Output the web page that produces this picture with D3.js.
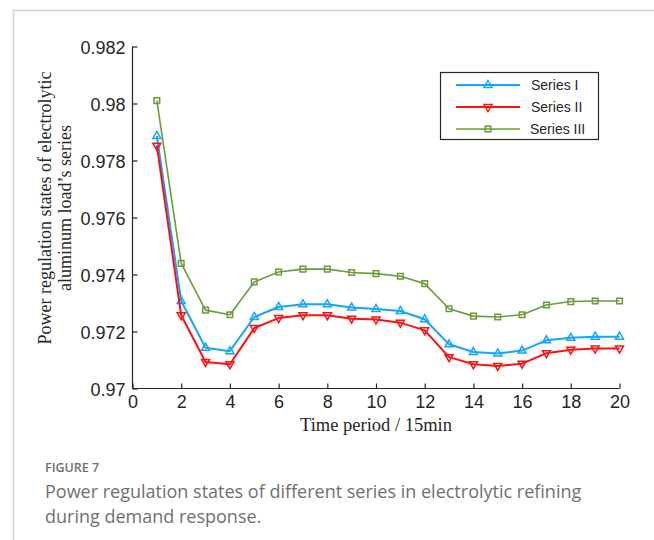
<!DOCTYPE html>
<html>
<head>
<meta charset="utf-8">
<script src="https://cdn.jsdelivr.net/npm/d3@7"></script>
<style>
  body { margin: 0; background: #fff; }
</style>
</head>
<body>
<div id="vis"></div>
<script>
const periods = [1, 2, 3, 4, 5, 6, 7, 8, 9, 10, 11, 12, 13, 14, 15, 16, 17, 18, 19, 20];
const seriesI = [0.97886, 0.97307, 0.97143, 0.97131, 0.97251, 0.97286, 0.97296, 0.97296, 0.97284, 0.97279,
  0.97272, 0.97243, 0.97155, 0.97128, 0.97123, 0.97133, 0.97169, 0.97178, 0.97182, 0.97182];
const seriesII = [0.97852, 0.97257, 0.97093, 0.97085, 0.97212, 0.97247, 0.97257, 0.97257, 0.97245, 0.97242,
  0.97231, 0.97204, 0.97110, 0.97085, 0.97079, 0.97087, 0.97124, 0.97136, 0.97140, 0.97140];
const seriesIII = [0.98010, 0.97439, 0.97275, 0.97259, 0.97374, 0.97409, 0.97419, 0.97419, 0.97407, 0.97403,
  0.97394, 0.97368, 0.97280, 0.97254, 0.97251, 0.97259, 0.97293, 0.97305, 0.97307, 0.97307];
const seriesNames = ["Series I", "Series II", "Series III"];
const xTicks = [0, 2, 4, 6, 8, 10, 12, 14, 16, 18, 20];
const yTicks = [0.97, 0.972, 0.974, 0.976, 0.978, 0.98, 0.982];

const W = 654, H = 540;
const svg = d3.select("#vis").append("svg")
  .attr("width", W)
  .attr("height", H);

// page frame (top and left rules)
svg.append("line")
  .attr("x1", 13).attr("x2", W).attr("y1", 10.5).attr("y2", 10.5)
  .attr("stroke", "#cfcfcf").attr("stroke-width", 1.5);
svg.append("line")
  .attr("x1", 13.5).attr("x2", 13.5).attr("y1", 10).attr("y2", H)
  .attr("stroke", "#cfcfcf").attr("stroke-width", 1.5);

const x = d3.scaleLinear().domain([0, 20]).range([132.5, 619.5]);
const y = d3.scaleLinear().domain([0.97, 0.982]).range([388.5, 46.5]);

const series = [
  { name: seriesNames[0], values: seriesI, color: "#14a5ff", width: 2, marker: "up" },
  { name: seriesNames[1], values: seriesII, color: "#ff1010", width: 2, marker: "down" },
  { name: seriesNames[2], values: seriesIII, color: "#6b9c38", width: 1.6, marker: "square" }
];

function markerPath(type) {
  if (type === "up") return "M0,-4.5L4,2.5L-4,2.5Z";
  if (type === "down") return "M0,4.5L4,-2.5L-4,-2.5Z";
  return "M-2.8,-2.8H2.8V2.8H-2.8Z";
}

// axes: left and bottom only, ticks pointing inward
const axisColor = "#262626";
const yAxis = svg.append("g")
  .attr("transform", `translate(${x(0)},0)`)
  .call(d3.axisLeft(y).tickValues(yTicks).tickSize(-5).tickPadding(7)
    .tickFormat(d => d3.format("")(+d.toFixed(3))));
const xAxis = svg.append("g")
  .attr("transform", `translate(0,${y(0.97)})`)
  .call(d3.axisBottom(x).tickValues(xTicks).tickSize(-5).tickPadding(7));

[yAxis, xAxis].forEach(g => {
  g.select(".domain").attr("stroke", axisColor).attr("stroke-width", 1.2);
  g.selectAll(".tick line").attr("stroke", axisColor).attr("stroke-width", 1.2);
  g.selectAll(".tick text")
    .attr("fill", "#262626")
    .attr("font-family", "'Liberation Sans', Arial, sans-serif")
    .attr("font-size", "18px");
});
yAxis.select(".domain").attr("d", `M0,${y(0.982)}V${y(0.97)}`);
xAxis.select(".domain").attr("d", `M${x(0)},0H${x(20)}`);
yAxis.selectAll(".tick text").attr("dy", "0.38em");

const line = d3.line()
  .x((d, i) => x(periods[i]))
  .y(d => y(d));

series.forEach(s => {
  svg.append("path")
    .datum(s.values)
    .attr("fill", "none")
    .attr("stroke", s.color)
    .attr("stroke-width", s.width)
    .attr("stroke-linejoin", "round")
    .attr("d", line);
  svg.append("g").selectAll("path")
    .data(s.values)
    .join("path")
    .attr("transform", (d, i) => `translate(${x(periods[i])},${y(d)})`)
    .attr("d", markerPath(s.marker))
    .attr("fill", "none")
    .attr("stroke", s.color)
    .attr("stroke-width", 1.5);
});

// axis labels
svg.append("text")
  .attr("x", x(10))
  .attr("y", 431)
  .attr("text-anchor", "middle")
  .attr("font-family", "'Liberation Serif', 'Times New Roman', serif")
  .attr("font-size", "18.5px")
  .attr("fill", "#262626")
  .text("Time period / 15min");

const yLabel = svg.append("text")
  .attr("transform", `translate(51,208) rotate(-90)`)
  .attr("text-anchor", "middle")
  .attr("font-family", "'Liberation Serif', 'Times New Roman', serif")
  .attr("font-size", "18px")
  .attr("fill", "#262626");
yLabel.append("tspan").attr("x", 0).attr("dy", 0).text("Power regulation states of electrolytic");
yLabel.append("tspan").attr("x", 0).attr("dy", 20).text("aluminum load\u2019s series");

// legend
const legend = svg.append("g");
legend.append("rect")
  .attr("x", 440.5).attr("y", 72.5)
  .attr("width", 158).attr("height", 67)
  .attr("fill", "#fff")
  .attr("stroke", "#262626")
  .attr("stroke-width", 1.2);
series.forEach((s, i) => {
  const ly = 85 + i * 22;
  legend.append("line")
    .attr("x1", 456).attr("x2", 520).attr("y1", ly).attr("y2", ly)
    .attr("stroke", s.color).attr("stroke-width", s.width);
  legend.append("path")
    .attr("transform", `translate(488,${ly})`)
    .attr("d", markerPath(s.marker))
    .attr("fill", "none")
    .attr("stroke", s.color)
    .attr("stroke-width", 1.5);
  legend.append("text")
    .attr("x", 531 + (i === 2 ? -1 : 0))
    .attr("y", ly)
    .attr("dy", "0.35em")
    .attr("font-family", "'Liberation Sans', Arial, sans-serif")
    .attr("font-size", "14px")
    .attr("fill", "#262626")
    .text(s.name);
});

// caption
svg.append("text")
  .attr("x", 45).attr("y", 472)
  .attr("font-family", "'Open Sans', sans-serif")
  .attr("font-size", "12.5px")
  .attr("font-weight", 600)
  .attr("fill", "#707070")
  .text("FIGURE 7");
const caption = svg.append("text")
  .attr("font-family", "'Open Sans', sans-serif")
  .attr("font-size", "18px")
  .attr("fill", "#707070");
caption.append("tspan").attr("x", 45).attr("y", 498)
  .text("Power regulation states of different series in electrolytic refining");
caption.append("tspan").attr("x", 45).attr("y", 523)
  .text("during demand response.");
</script>
</body>
</html>
